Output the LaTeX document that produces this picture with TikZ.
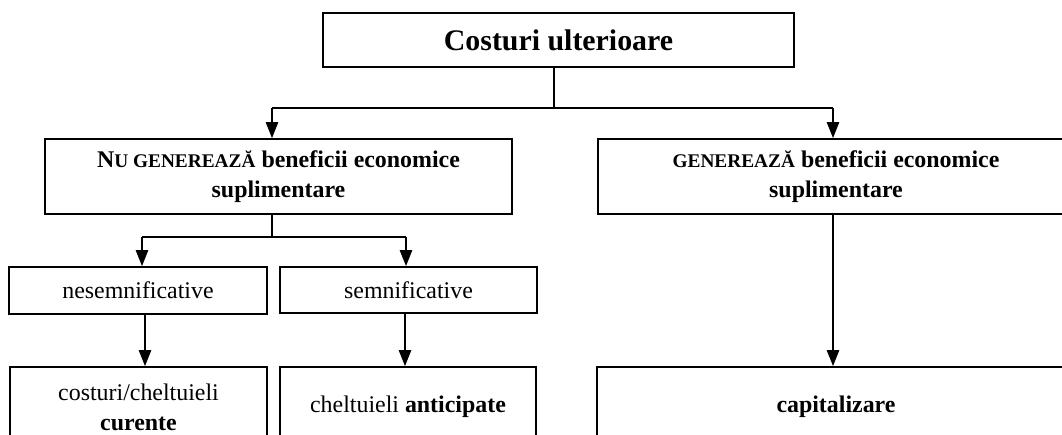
\documentclass[tikz,border=0pt]{standalone}
\usepackage{fontspec}
\setmainfont{Liberation Serif}
\usetikzlibrary{arrows.meta}
\newcommand{\smcap}[1]{{\fontsize{11pt}{17pt}\selectfont #1}}

\begin{document}
\begin{tikzpicture}[x=0.02cm, y=-0.02cm,
  box/.style={draw, line width=1.1pt, inner sep=0pt, align=center,
    font=\fontsize{13.6pt}{17pt}\selectfont},
  boldbox/.style={box, font=\bfseries\fontsize{13.6pt}{17pt}\selectfont},
  link/.style={line width=0.7pt},
  arr/.style={link, -{Triangle[width=7pt,length=9pt]}}]
\useasboundingbox (0,0) rectangle (1062,434);
\clip (0,0) rectangle (1062,434);

% boxes
\node[box, minimum width=9.42cm, minimum height=1.08cm,
  font=\bfseries\fontsize{17pt}{20pt}\selectfont] (cost) at (558.5,40) {Costuri ulterioare};
\node[boldbox, minimum width=9.34cm, minimum height=1.5cm] (nu) at (278.5,176.5)
  {N\smcap{U GENEREAZĂ} beneficii economice\\ suplimentare};
\node[boldbox, minimum width=9.52cm, minimum height=1.5cm] (gen) at (836,176.5)
  {\smcap{GENEREAZĂ} beneficii economice\\ suplimentare};
\node[box, minimum width=5.16cm, minimum height=0.94cm] (nesemn) at (138,290.5) {nesemnificative};
\node[box, minimum width=5.14cm, minimum height=0.92cm] (semn) at (408.5,290) {semnificative};
\node[box, minimum width=5.14cm, minimum height=1.6cm] (curente) at (138.5,407)
  {costuri/cheltuieli\\ \textbf{curente}};
\node[box, minimum width=5.12cm, minimum height=1.6cm] (antic) at (408,407)
  {cheltuieli \textbf{anticipate}};
\node[boldbox, minimum width=9.56cm, minimum height=1.6cm] (capit) at (836,407) {capitalizare};

% junctions
\coordinate (j1) at (554,108);
\coordinate (j1l) at (272,108);
\coordinate (j1r) at (833,108);
\coordinate (j2) at (272,237);
\coordinate (j2l) at (142,237);
\coordinate (j2r) at (406,237);
\coordinate (a3) at (145,340);
\coordinate (a4) at (405,340);

% connectors
\draw[link] (cost.south -| j1) -- (j1);
\draw[link] (j1l) -- (j1r);
\draw[arr] (j1l) -- (nu.north -| j1l);
\draw[arr] (j1r) -- (gen.north -| j1r);
\draw[link] (nu.south -| j2) -- (j2);
\draw[link] (j2l) -- (j2r);
\draw[arr] (j2l) -- (nesemn.north -| j2l);
\draw[arr] (j2r) -- (semn.north -| j2r);
\draw[arr] (nesemn.south -| a3) -- (curente.north -| a3);
\draw[arr] (semn.south -| a4) -- (antic.north -| a4);
\draw[arr] (gen.south -| j1r) -- (capit.north -| j1r);
\end{tikzpicture}
\end{document}
